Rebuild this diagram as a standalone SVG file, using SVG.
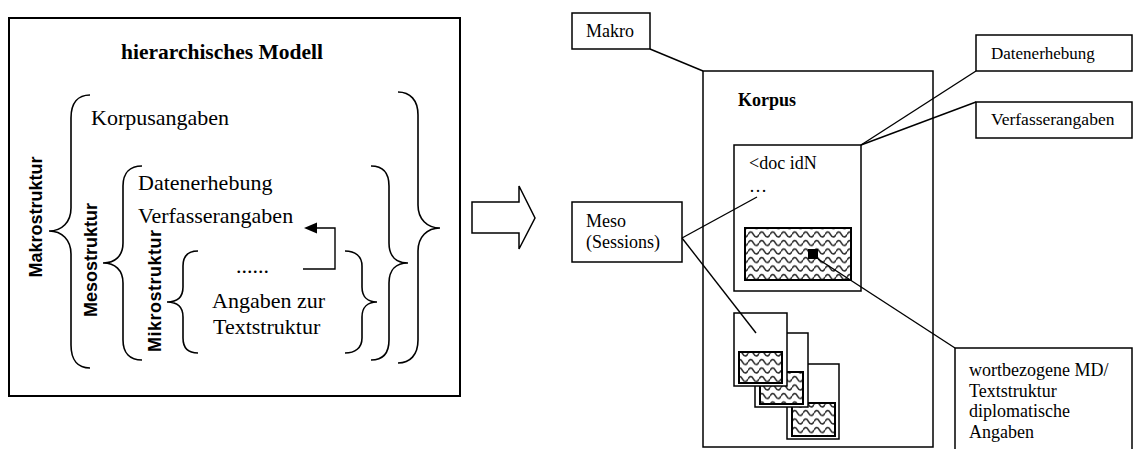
<svg xmlns="http://www.w3.org/2000/svg" width="1134" height="449" viewBox="0 0 1134 449">
<style>
.t{font-family:"Liberation Serif","Times New Roman",serif;fill:#000}
.l{font-size:22px}
.r{font-size:18px}
.b{font-weight:bold}
.v{font-family:"Liberation Sans",Arial,sans-serif;font-weight:bold;font-size:18px;fill:#000}
.box{fill:#fff;stroke:#000;stroke-width:1.5}
.br{fill:none;stroke:#000;stroke-width:1.6}
.ln{fill:none;stroke:#000;stroke-width:1.4}
.pat{fill:url(#wave);stroke:#000;stroke-width:2}
</style>
<defs>
<pattern id="wave" patternUnits="userSpaceOnUse" width="11" height="8.5">
<rect width="11" height="8.5" fill="#fff"/>
<path d="M0 5 Q2.75 0 5.5 5 T11 5" fill="none" stroke="#2a2a2a" stroke-width="1.6"/>
</pattern>
</defs>

<g id="left-model">
<rect x="9" y="18" width="451" height="378" fill="#fff" stroke="#000" stroke-width="2"/>
<text class="t b" x="222" y="59" font-size="21.5" text-anchor="middle">hierarchisches Modell</text>
<text class="t l" x="91" y="125">Korpusangaben</text>
<text class="t l" x="138" y="190">Datenerhebung</text>
<text class="t l" x="138" y="223">Verfasserangaben</text>
<text class="t l" x="236" y="273">......</text>
<text class="t l" x="212" y="308">Angaben zur</text>
<text class="t l" x="213" y="334">Textstruktur</text>
<text class="v" transform="translate(42 217) rotate(-90)" text-anchor="middle">Makrostruktur</text>
<text class="v" transform="translate(97 260) rotate(-90)" text-anchor="middle">Mesostruktur</text>
<text class="v" transform="translate(161 291) rotate(-90)" text-anchor="middle" textLength="122">Mikrostruktur</text>
<path class="br" d="M90,95 C78,95 71,103 71,118 L71,208 C71,222 62,231 49,231 C62,231 71,240 71,254 L71,345 C71,360 78,368 90,368"/>
<path class="br" d="M398,92 C410,92 418,100 418,115 L418,205 C418,219 427,228 440,228 C427,228 418,237 418,251 L418,340 C418,355 410,363 398,363"/>
<path class="br" d="M142,166 C130,166 123,173 123,186 L123,243 C123,256 115,263 103,263 C115,263 123,270 123,283 L123,340 C123,353 130,360 142,360"/>
<path class="br" d="M371,166 C383,166 389,173 389,186 L389,243 C389,256 396,263 408,263 C396,263 389,270 389,283 L389,340 C389,353 383,360 371,360"/>
<path class="br" d="M198,251 C188,251 183,256 183,266 L183,287 C183,297 177,302 167,302 C177,302 183,307 183,317 L183,338 C183,348 188,353 198,353"/>
<path class="br" d="M345,251 C355,251 362,256 362,266 L362,287 C362,297 368,302 377,302 C368,302 362,307 362,317 L362,338 C362,348 355,353 345,353"/>
</g>

<g id="block-arrow">
<path d="M472,202 L519,202 L519,186 L535,218 L519,249 L519,233 L472,233 Z" fill="#fff" stroke="#000" stroke-width="1.5"/>
</g>

<g id="korpus">
<rect class="box" x="703" y="71" width="230" height="376"/>
<text class="t r b" x="738" y="106">Korpus</text>
</g>

<g id="doc">
<rect class="box" x="734" y="145" width="127" height="146"/>
<text class="t r" x="749" y="169">&lt;doc idN</text>
<text class="t r" x="749" y="192">…</text>
<rect class="pat" x="745" y="228" width="106" height="52"/>
<rect x="808" y="249" width="10" height="10" fill="#000"/>
</g>

<g id="sessions">
<rect class="box" x="787" y="364" width="52" height="75"/>
<rect class="pat" x="792" y="403" width="43" height="33"/>
<rect class="box" x="755" y="333" width="53" height="74"/>
<rect class="pat" x="760" y="372" width="43" height="32"/>
<rect class="box" x="734" y="313" width="53" height="73"/>
<rect class="pat" x="739" y="352" width="43" height="31"/>
</g>

<g id="makro">
<rect class="box" x="572" y="13" width="78" height="36"/>
<text class="t r" x="586" y="37">Makro</text>
</g>

<g id="meso">
<rect class="box" x="572" y="202" width="110" height="60"/>
<text class="t r" x="586" y="227">Meso</text>
<text class="t r" x="586" y="248">(Sessions)</text>
</g>

<g id="datenerhebung">
<rect class="box" x="976" y="35" width="156" height="36"/>
<text class="t" x="991" y="59" font-size="17">Datenerhebung</text>
</g>

<g id="verfasserangaben">
<rect class="box" x="976" y="102" width="156" height="36"/>
<text class="t" x="991" y="125" font-size="17.5">Verfasserangaben</text>
</g>

<g id="wortbezogene">
<path d="M955,452 L955,348 L1132,348 L1132,452" fill="#fff" stroke="#000" stroke-width="1.5"/>
<text class="t r" x="969" y="376">wortbezogene MD/</text>
<text class="t r" x="969" y="397">Textstruktur</text>
<text class="t r" x="969" y="417">diplomatische</text>
<text class="t r" x="969" y="438">Angaben</text>
</g>

<g id="connectors">
<path class="ln" d="M303,269 L335,269 L335,228 L314,228"/>
<path d="M304,228 L317,222.5 L317,233.5 Z" fill="#000"/>
<line class="ln" x1="650" y1="49" x2="703" y2="71"/>
<line class="ln" x1="861" y1="145" x2="976" y2="71"/>
<line class="ln" x1="861" y1="145" x2="976" y2="102"/>
<line class="ln" x1="682" y1="238" x2="757" y2="197"/>
<line class="ln" x1="682" y1="238" x2="756" y2="333"/>
<line class="ln" x1="818" y1="259" x2="955" y2="348"/>
</g>
</svg>
